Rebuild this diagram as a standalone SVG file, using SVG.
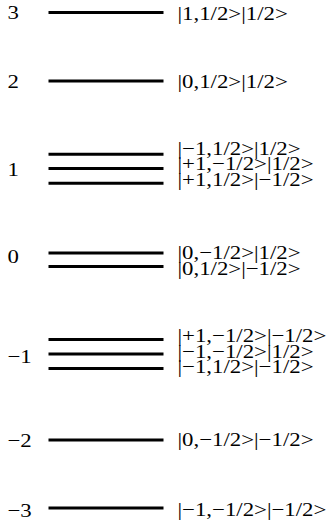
<svg xmlns="http://www.w3.org/2000/svg" width="328" height="527" viewBox="0 0 328 527">
<style>
.lvl{stroke:#000;stroke-width:3;fill:none}
.t{font-family:"Liberation Serif","Times New Roman",serif;font-size:19.5px;fill:#000}
</style>
<rect width="328" height="527" fill="#fff"/>
<g id="connectors">
<line class="lvl" x1="48.5" y1="12.5" x2="163.5" y2="12.5"/>
<line class="lvl" x1="48.5" y1="81" x2="163.5" y2="81"/>
<line class="lvl" x1="48.5" y1="154.3" x2="163.5" y2="154.3"/>
<line class="lvl" x1="48.5" y1="168.5" x2="163.5" y2="168.5"/>
<line class="lvl" x1="48.5" y1="183.3" x2="163.5" y2="183.3"/>
<line class="lvl" x1="48.5" y1="253" x2="163.5" y2="253"/>
<line class="lvl" x1="48.5" y1="266.5" x2="163.5" y2="266.5"/>
<line class="lvl" x1="48.5" y1="339.5" x2="163.5" y2="339.5"/>
<line class="lvl" x1="48.5" y1="354" x2="163.5" y2="354"/>
<line class="lvl" x1="48.5" y1="368.5" x2="163.5" y2="368.5"/>
<line class="lvl" x1="48.5" y1="440" x2="163.5" y2="440"/>
<line class="lvl" x1="48.5" y1="508" x2="163.5" y2="508"/>
</g>
<g id="level3">
<text class="t" transform="translate(7.5,18.5) scale(1.17,1)">3</text>
<text class="t" transform="translate(177.5,19.5) scale(1.17,1)">|1,1/2&gt;|1/2&gt;</text>
</g>
<g id="level2">
<text class="t" transform="translate(7.5,87.5) scale(1.17,1)">2</text>
<text class="t" transform="translate(177.5,87.5) scale(1.17,1)">|0,1/2&gt;|1/2&gt;</text>
</g>
<g id="level1">
<text class="t" transform="translate(7.5,175.5) scale(1.17,1)">1</text>
<text class="t" transform="translate(177.5,154.5) scale(1.17,1)">|−1,1/2&gt;|1/2&gt;</text>
<text class="t" transform="translate(177.5,170) scale(1.17,1)">|+1,−1/2&gt;|1/2&gt;</text>
<text class="t" transform="translate(177.5,185.5) scale(1.17,1)">|+1,1/2&gt;|−1/2&gt;</text>
</g>
<g id="level0">
<text class="t" transform="translate(7.5,263) scale(1.17,1)">0</text>
<text class="t" transform="translate(177.5,259) scale(1.17,1)">|0,−1/2&gt;|1/2&gt;</text>
<text class="t" transform="translate(177.5,274.5) scale(1.17,1)">|0,1/2&gt;|−1/2&gt;</text>
</g>
<g id="levelm1">
<text class="t" transform="translate(7.5,362.5) scale(1.17,1)">−1</text>
<text class="t" transform="translate(177.5,342) scale(1.17,1)">|+1,−1/2&gt;|−1/2&gt;</text>
<text class="t" transform="translate(177.5,357.5) scale(1.17,1)">|−1,−1/2&gt;|1/2&gt;</text>
<text class="t" transform="translate(177.5,373) scale(1.17,1)">|−1,1/2&gt;|−1/2&gt;</text>
</g>
<g id="levelm2">
<text class="t" transform="translate(7.5,447) scale(1.17,1)">−2</text>
<text class="t" transform="translate(177.5,446) scale(1.17,1)">|0,−1/2&gt;|−1/2&gt;</text>
</g>
<g id="levelm3">
<text class="t" transform="translate(7.5,516.5) scale(1.17,1)">−3</text>
<text class="t" transform="translate(177.5,516) scale(1.17,1)">|−1,−1/2&gt;|−1/2&gt;</text>
</g>
</svg>
